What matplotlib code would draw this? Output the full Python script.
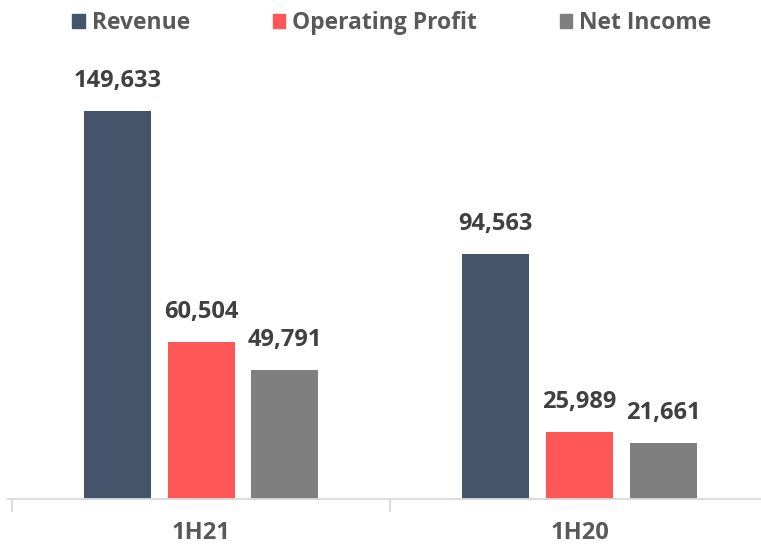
import matplotlib.pyplot as plt
from matplotlib.patches import Patch
import numpy as np

plt.rcParams['font.family'] = ['Open Sans', 'DejaVu Sans']

periods = ["1H21", "1H20"]
series = ["Revenue", "Operating Profit", "Net Income"]
values = {
    "Revenue": [149633, 94563],
    "Operating Profit": [60504, 25989],
    "Net Income": [49791, 21661],
}
colors = ["#44546a", "#ff5757", "#7f7f7f"]

fig = plt.figure(figsize=(7.61, 5.44), dpi=100)
# baseline at 499px from top, axes top at 40px
ax = fig.add_axes([8 / 761, 45 / 544, 753 / 761, 459 / 544])

x = np.arange(len(periods))
width = 0.177
offset = 0.221
px_per_unit = 2.593 / 1000
ax.set_ylim(0, 459 / px_per_unit)
ax.set_xlim(-0.51, 1.4794)

for i, name in enumerate(series):
    pos = x + (i - 1) * offset
    bars = ax.bar(pos, values[name], width, color=colors[i])
    for xp, v in zip(pos, values[name]):
        ax.annotate(f"{v:,}", (xp, v), xytext=(0, 13), textcoords="offset points",
                    ha="center", va="bottom", fontsize=17, fontweight="bold",
                    color="#404040")

for s in ["top", "right", "left"]:
    ax.spines[s].set_visible(False)
ax.spines["bottom"].set_color("#d9d9d9")
ax.spines["bottom"].set_linewidth(1.3)
ax.set_yticks([])
ax.set_xticks([-0.5, 0.5], minor=False)
ax.set_xticklabels([])
ax.tick_params(axis="x", which="major", length=9, color="#d9d9d9", width=1.3)
ax.set_xticks(x, minor=True)
ax.set_xticklabels(periods, minor=True)
ax.tick_params(axis="x", which="minor", length=0, pad=16, labelsize=17,
               labelcolor="#595959")
for lab in ax.get_xticklabels(minor=True):
    lab.set_fontweight("bold")

handles = [Patch(color=c) for c in colors]
fig.legend(handles, series, loc="upper left", bbox_to_anchor=(61 / 761, 1.0),
           ncol=3, frameon=False, handlelength=0.55, handleheight=0.55,
           handletextpad=0.3, columnspacing=3.6, borderaxespad=0.1,
           prop={"weight": "bold", "size": 16.5}, labelcolor="#595959")

fig.savefig("out.png", dpi=100)
